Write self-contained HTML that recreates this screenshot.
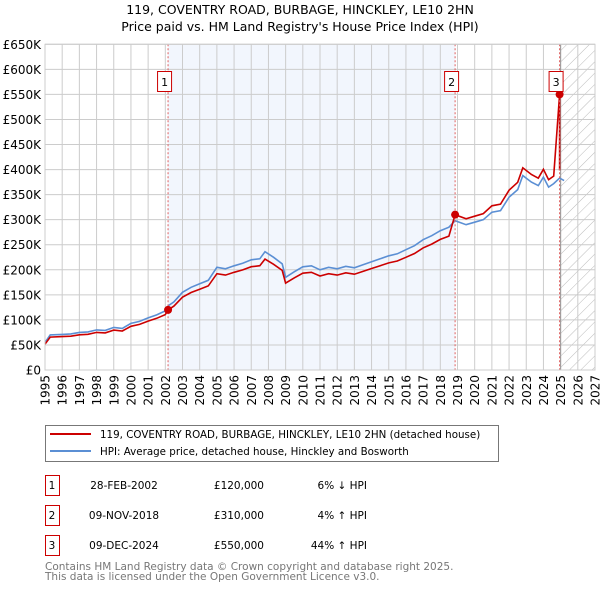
<!DOCTYPE html>
<html><head><meta charset="utf-8"><style>
body{margin:0;background:#fff;font-family:"Liberation Sans","DejaVu Sans",sans-serif;}
</style></head><body>
<svg id="chart" width="600" height="590" viewBox="0 0 600 590" xmlns="http://www.w3.org/2000/svg" font-family="DejaVu Sans, Liberation Sans, sans-serif">
<text x="300" y="14" text-anchor="middle" font-size="12.5">119, COVENTRY ROAD, BURBAGE, HINCKLEY, LE10 2HN</text>
<text x="300" y="31" text-anchor="middle" font-size="12.5">Price paid vs. HM Land Registry's House Price Index (HPI)</text>
<g id="plot"></g>
<g>
<rect x="45.5" y="425.5" width="453" height="36" fill="#fff" stroke="#777"/>
<line x1="50" y1="434" x2="91" y2="434" stroke="#cc0000" stroke-width="2"/>
<text x="100" y="438" font-size="10.3">119, COVENTRY ROAD, BURBAGE, HINCKLEY, LE10 2HN (detached house)</text>
<line x1="50" y1="451" x2="91" y2="451" stroke="#5b8fd4" stroke-width="2"/>
<text x="100" y="455" font-size="10.3">HPI: Average price, detached house, Hinckley and Bosworth</text>
</g>
<g id="table" font-size="10.5"></g>
<text x="45" y="570" font-size="10.5" fill="#777">Contains HM Land Registry data © Crown copyright and database right 2025.</text>
<text x="45" y="580" font-size="10.5" fill="#777">This data is licensed under the Open Government Licence v3.0.</text>
</svg>
<script>
const hpiYears=[1995.0,1995.3,1996,1996.5,1997,1997.5,1998,1998.5,1999,1999.5,2000,2000.5,2001,2001.5,2002,2002.16,2002.5,2003,2003.5,2004,2004.5,2005,2005.5,2006,2006.5,2007,2007.5,2007.8,2008.3,2008.8,2009.0,2009.5,2010,2010.5,2011,2011.5,2012,2012.5,2013,2013.5,2014,2014.5,2015,2015.5,2016,2016.5,2017,2017.5,2018,2018.5,2018.86,2019.5,2020,2020.5,2021,2021.5,2022,2022.5,2022.8,2023.3,2023.7,2024.0,2024.3,2024.6,2024.94,2025.2];
const hpiValues=[55,70,71,72,75,76,80,79,85,83,93,97,104,110,118,128,136,155,165,172,179,205,202,208,213,220,222,236,225,212,185,196,206,208,200,205,202,207,204,210,216,222,228,232,240,248,260,268,278,285,298,290,295,300,315,318,345,360,388,375,368,385,365,372,383,378];
const saleYears=[2002.16,2018.86,2024.94];
const salePrices=[120,310,550];
const saleLabels=["1","2","3"];
const saleDates=["28-FEB-2002","09-NOV-2018","09-DEC-2024"];
const salePriceText=["£120,000","£310,000","£550,000"];
const saleHpiText=["6% ↓ HPI","4% ↑ HPI","44% ↑ HPI"];
const yTicks=[0,50,100,150,200,250,300,350,400,450,500,550,600,650];
const yTickLabels=["£0","£50K","£100K","£150K","£200K","£250K","£300K","£350K","£400K","£450K","£500K","£550K","£600K","£650K"];
const xTicks=[1995,1996,1997,1998,1999,2000,2001,2002,2003,2004,2005,2006,2007,2008,2009,2010,2011,2012,2013,2014,2015,2016,2017,2018,2019,2020,2021,2022,2023,2024,2025,2026,2027];

const X0=45,X1=595,Y0=370,Y1=44.3;
const xs=y=>X0+(y-1995)/(2027-1995)*(X1-X0);
const ys=v=>Y0-v/650*(Y0-Y1);
const NS="http://www.w3.org/2000/svg";
const plot=document.getElementById('plot');
function mk(tag,attrs,parent){const e=document.createElementNS(NS,tag);for(const k in attrs)e.setAttribute(k,attrs[k]);(parent||plot).appendChild(e);return e;}

const defs=mk('defs',{},document.getElementById('chart'));
const pat=mk('pattern',{id:'hatch',width:'8',height:'8',patternUnits:'userSpaceOnUse',patternTransform:'rotate(45)'},defs);
mk('line',{x1:'0',y1:'0',x2:'0',y2:'8',stroke:'#bbb','stroke-width':'1'},pat);

const bg=mk('rect',{x:X0,y:Y1,width:X1-X0,height:Y0-Y1,fill:'#fff'});


const shade=mk('rect',{x:xs(saleYears[0]),y:Y1,width:xs(saleYears[1])-xs(saleYears[0]),height:Y0-Y1,fill:'#f2f6fd'});


const hatch=mk('rect',{x:xs(2025),y:Y1,width:X1-xs(2025),height:Y0-Y1,fill:'url(#hatch)'});



yTicks.forEach((t,i)=>{
  const l=mk('line',{x1:X0,x2:X1,y1:ys(t),y2:ys(t),stroke:'#ccc','stroke-width':'1'});
  
  
  const tx=mk('text',{x:X0-4,y:ys(t)+4.5,'text-anchor':'end','font-size':'12'});
  
  
  tx.textContent=yTickLabels[i];
});
xTicks.forEach(t=>{
  const l=mk('line',{x1:xs(t),x2:xs(t),y1:Y1,y2:Y0,stroke:'#ccc','stroke-width':'1'});
  
  
  const tx=mk('text',{x:0,y:0,'text-anchor':'end','font-size':'12',transform:`translate(${xs(t)+4.5},${Y0+5}) rotate(-90)`});
  
  
  tx.textContent=t;
});
const divider=mk('line',{x1:xs(2025),x2:xs(2025),y1:Y1,y2:Y0,stroke:'#999','stroke-width':'1'});



let d=hpiYears.map((y,i)=>(i?'L':'M')+xs(y).toFixed(1)+','+ys(hpiValues[i]).toFixed(1)).join('');
const hl=mk('path',{d,fill:'none',stroke:'#5b8fd4','stroke-width':'1.6'});



function hpiAt(yr){for(let i=1;i<hpiYears.length;i++){if(yr<=hpiYears[i]){const f=(yr-hpiYears[i-1])/(hpiYears[i]-hpiYears[i-1]);return hpiValues[i-1]+f*(hpiValues[i]-hpiValues[i-1]);}}return hpiValues[hpiValues.length-1];}
const pts=[];
hpiYears.forEach((y,i)=>{
  if(y>saleYears[2])return;
  let k=0;for(let s=0;s<saleYears.length;s++){if(y>=saleYears[s])k=s;}
  pts.push([y,hpiValues[i]*salePrices[k]/hpiAt(saleYears[k])]);
});
pts.push([saleYears[2],salePrices[1]/hpiAt(saleYears[1])*hpiAt(saleYears[2])]);
pts.push([saleYears[2],salePrices[2]]);
d=pts.map((p,i)=>(i?'L':'M')+xs(p[0]).toFixed(1)+','+ys(p[1]).toFixed(1)).join('');
const pl=mk('path',{d,fill:'none',stroke:'#cc0000','stroke-width':'1.6'});



saleYears.forEach((y,i)=>{
  const v=mk('line',{x1:xs(y),x2:xs(y),y1:Y1,y2:Y0,stroke:'#e06060','stroke-width':'1','stroke-dasharray':'2,2'});
  
  
  const c=mk('circle',{cx:xs(y),cy:ys(salePrices[i]),r:'4',fill:'#cc0000'});
  
  
  const b=mk('rect',{x:xs(y)-10.5,y:71.5,width:14,height:20,fill:'#fff',stroke:'#cc0000'});
  
  
  const t=mk('text',{x:xs(y)-3.5,y:86,'text-anchor':'middle','font-size':'11'});
  
  
  t.textContent=saleLabels[i];
});
const border=mk('rect',{x:X0,y:Y1,width:X1-X0,height:Y0-Y1,fill:'none',stroke:'#ccc'});



const tb=document.getElementById('table');
saleLabels.forEach((lab,i)=>{
  const yy=475+i*30;
  const r=mk('rect',{x:45.5,y:yy+0.5,width:14,height:20,fill:'#fff',stroke:'#cc0000'},tb);
  
  
  const cells=[[52,lab,'middle'],[124,saleDates[i],'middle'],[264,salePriceText[i],'end'],[367,saleHpiText[i],'end']];
  cells.forEach(c=>{
    const t=mk('text',{x:c[0],y:yy+14,'text-anchor':c[2]},tb);
    
    
    t.textContent=c[1];
  });
});
</script>
</body></html>
